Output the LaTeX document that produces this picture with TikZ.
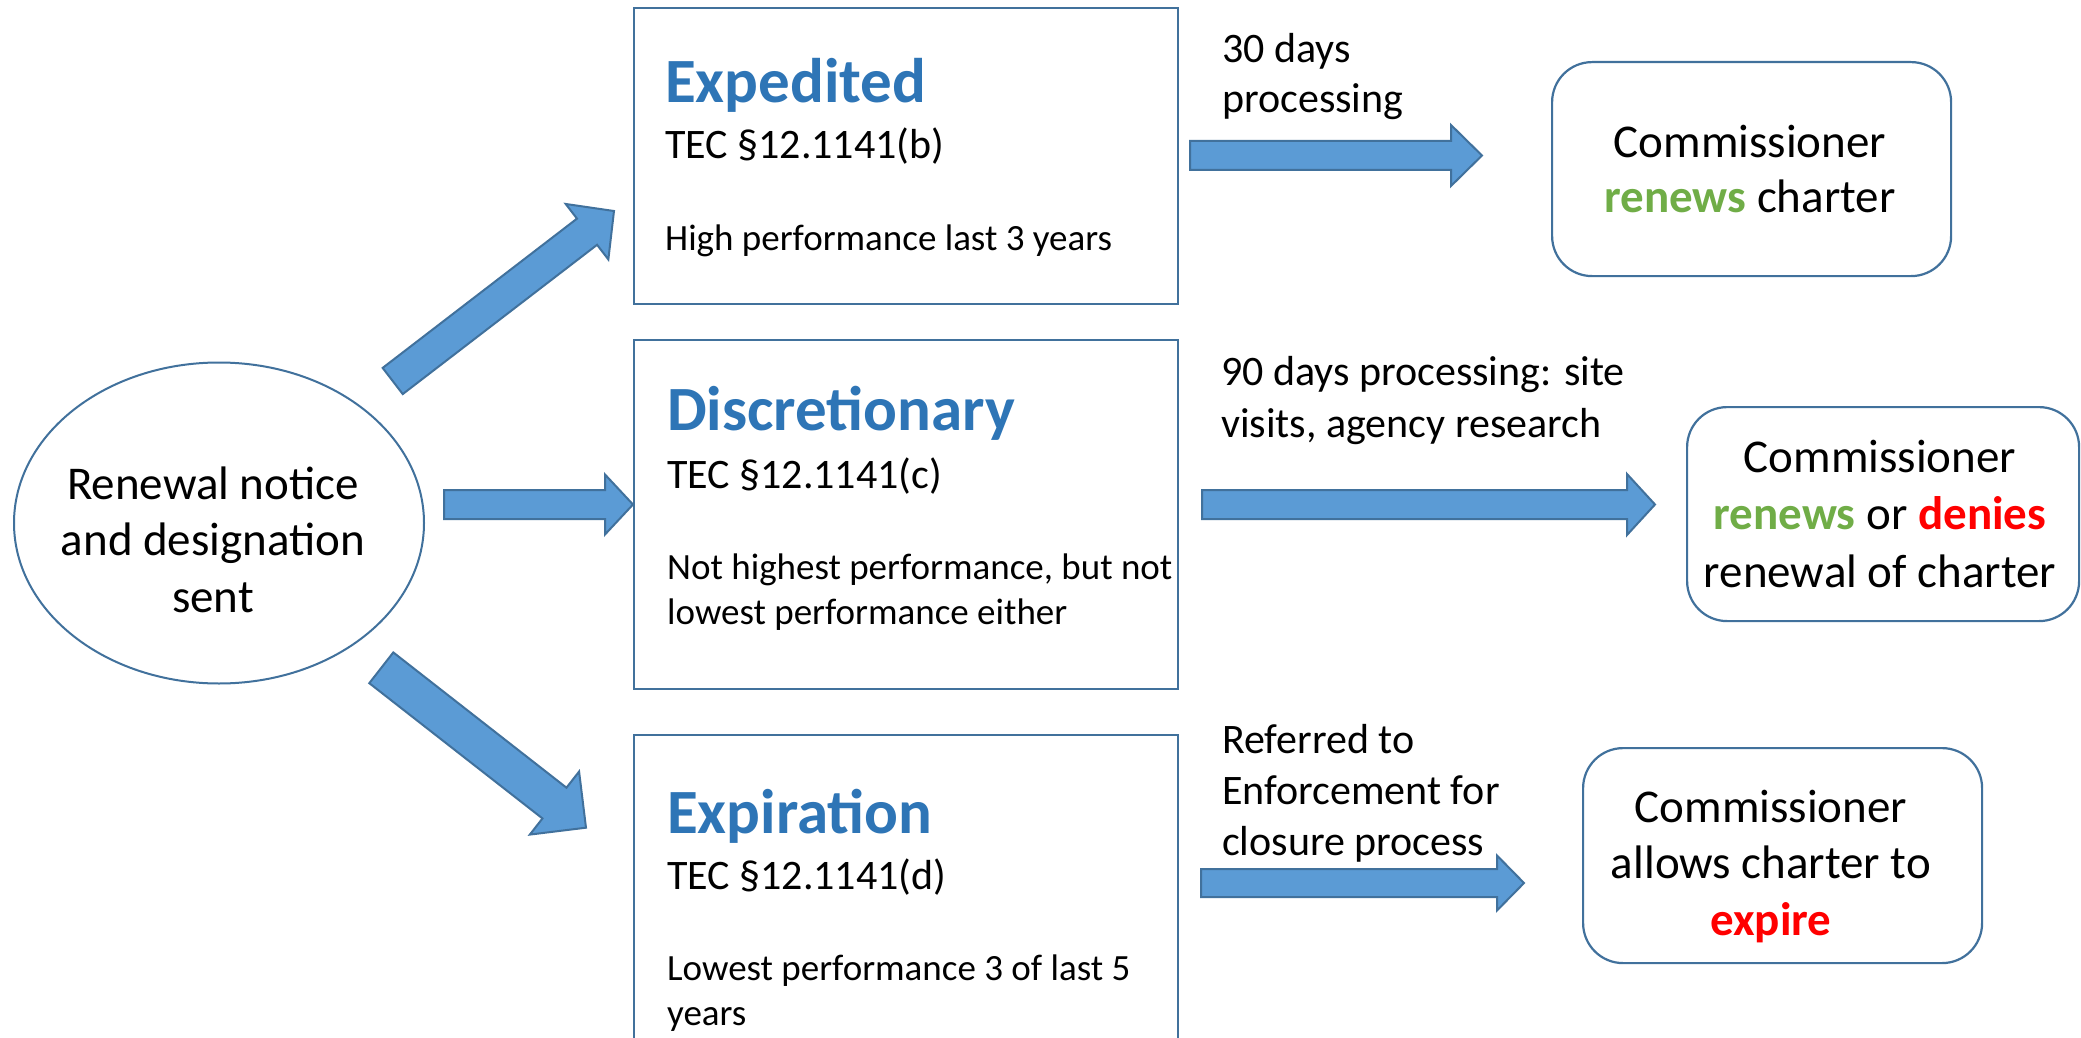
\documentclass[tikz,border=0pt]{standalone}
\usepackage{fontspec}
\setmainfont{Carlito}
\usetikzlibrary{calc,shapes.geometric}
\definecolor{edgeblue}{HTML}{41719C}
\definecolor{arrowblue}{HTML}{5B9BD5}
\definecolor{titleblue}{HTML}{2E75B6}
\definecolor{okgreen}{HTML}{70AD47}
\definecolor{nored}{HTML}{FF0000}
\tikzset{
  boxshape/.style={draw=edgeblue, line width=2.2pt, fill=white, anchor=north west, inner sep=0pt},
  roundshape/.style={boxshape, rounded corners=40pt},
  blockarr/.style={draw=edgeblue, fill=arrowblue, line width=2pt, line join=miter},
  titletext/.style={anchor=base west, inner sep=0pt, text=titleblue, font=\fontsize{63}{75}\selectfont\bfseries},
  codetext/.style={anchor=base west, inner sep=0pt, font=\fontsize{42}{50}\selectfont},
  desctext/.style={anchor=base west, inner sep=0pt, align=left, font=\fontsize{37}{44.5}\selectfont},
  labeltext/.style={anchor=base west, inner sep=0pt, align=left, font=\fontsize{42}{51}\selectfont},
  bigtext/.style={anchor=base, inner sep=0pt, align=center, font=\fontsize{47}{56.5}\selectfont},
}
% block arrow from #1 to #2: shaft width #3, head width #4, head length #5
\newcommand\blockarrow[5]{%
  \path let \p1=(#1), \p2=(#2), \n1={atan2(\y2-\y1,\x2-\x1)}, \n2={veclen(\x2-\x1,\y2-\y1)} in
    \pgfextra{\xdef\baAng{\n1}\xdef\baLen{\n2}\xdef\baX{\x1}\xdef\baY{\y1}};
  \begin{scope}[shift={(\baX,\baY)}, rotate=\baAng]
    \draw[blockarr] (0pt,{#3pt/2}) -- ({\baLen-#5pt},{#3pt/2}) -- ({\baLen-#5pt},{#4pt/2})
      -- (\baLen,0pt) -- ({\baLen-#5pt},{-#4pt/2}) -- ({\baLen-#5pt},{-#3pt/2})
      -- (0pt,{-#3pt/2}) -- cycle;
  \end{scope}}
\begin{document}
\begin{tikzpicture}[x=1pt, y=-1pt]
\useasboundingbox (0,0) rectangle (2081,1038);
\clip (0,0) rectangle (2081,1038);
\fill[white] (0,0) rectangle (2081,1038);

% start ellipse (multi-line texts are placed by the baseline of their last line)
\node[draw=edgeblue, line width=2pt, ellipse, minimum width=410pt, minimum height=321pt, inner sep=0pt] (start) at (219,523) {};
\node[bigtext] (starttext) at (213,612) {Renewal notice\\and designation\\sent};

% category boxes
\node[boxshape, minimum width=544pt, minimum height=296pt] (exp) at (633,7) {};
\node[titletext] (exptitle) at (665,103) {Expedited};
\node[codetext] (expcode) at (665,159) {TEC §12.1141(b)};
\node[desctext] (expdesc) at (665,250) {High performance last 3 years};

\node[boxshape, minimum width=544pt, minimum height=349pt] (disc) at (633,339) {};
\node[titletext] (disctitle) at (667,430) {Discretionary};
\node[codetext] (disccode) at (667,488) {TEC §12.1141(c)};
\node[desctext] (discdesc) at (667,624) {Not highest performance, but not\\lowest performance either};

\node[boxshape, minimum width=544pt, minimum height=340pt] (expir) at (633,734) {};
\node[titletext] (expirtitle) at (667,833) {Expiration};
\node[codetext] (expircode) at (667,889) {TEC §12.1141(d)};
\node[desctext] (expirdesc) at (667,1025) {Lowest performance 3 of last 5\\years};

% outcome boxes
\node[roundshape, minimum width=399pt, minimum height=214pt] (out1) at (1551,61) {};
\node[bigtext, font=\fontsize{47}{55}\selectfont] (out1text) at (1750,212) {Commissioner\\{\color{okgreen}\bfseries renews} charter};

\node[roundshape, minimum width=392pt, minimum height=214pt] (out2) at (1686,406) {};
\node[bigtext, font=\fontsize{47}{57.5}\selectfont] (out2text) at (1880,587) {Commissioner\\{\color{okgreen}\bfseries renews} or {\color{nored}\bfseries denies}\\renewal of charter};

\node[roundshape, minimum width=399pt, minimum height=215pt] (out3) at (1582,747) {};
\node[bigtext] (out3text) at (1771,935) {Commissioner\\allows charter to\\{\color{nored}\bfseries expire}};

% arrow labels
\node[labeltext, font=\fontsize{42}{50}\selectfont] (lab1) at (1222,113) {30 days\\processing};
\node[labeltext, font=\fontsize{42}{52}\selectfont] (lab2) at (1221,437) {90 days processing: site\\visits, agency research};
\node[labeltext] (lab3) at (1222,855) {Referred to\\Enforcement for\\closure process};

% arrow end points
\coordinate (a1s) at (392.7,381);  \coordinate (a1e) at (614,211);
\coordinate (a2s) at (444,504.5);  \coordinate (a2e) at (disc.west |- a2s);
\coordinate (a3s) at (381.3,667.8); \coordinate (a3e) at (586,827.7);
\coordinate (b1s) at (1190,155.5); \coordinate (b1e) at (1482,155.5);
\coordinate (b2s) at (1202,504.5); \coordinate (b2e) at (1655,504.5);
\coordinate (b3s) at (1201,883);   \coordinate (b3e) at (1524,883);

\blockarrow{a1s}{a1e}{33}{70}{34}
\blockarrow{a2s}{a2e}{29}{60}{28}
\blockarrow{a3s}{a3e}{39}{80}{40}
\blockarrow{b1s}{b1e}{29}{61}{31}
\blockarrow{b2s}{b2e}{29}{61}{28}
\blockarrow{b3s}{b3e}{28}{55}{27}
\end{tikzpicture}
\end{document}
